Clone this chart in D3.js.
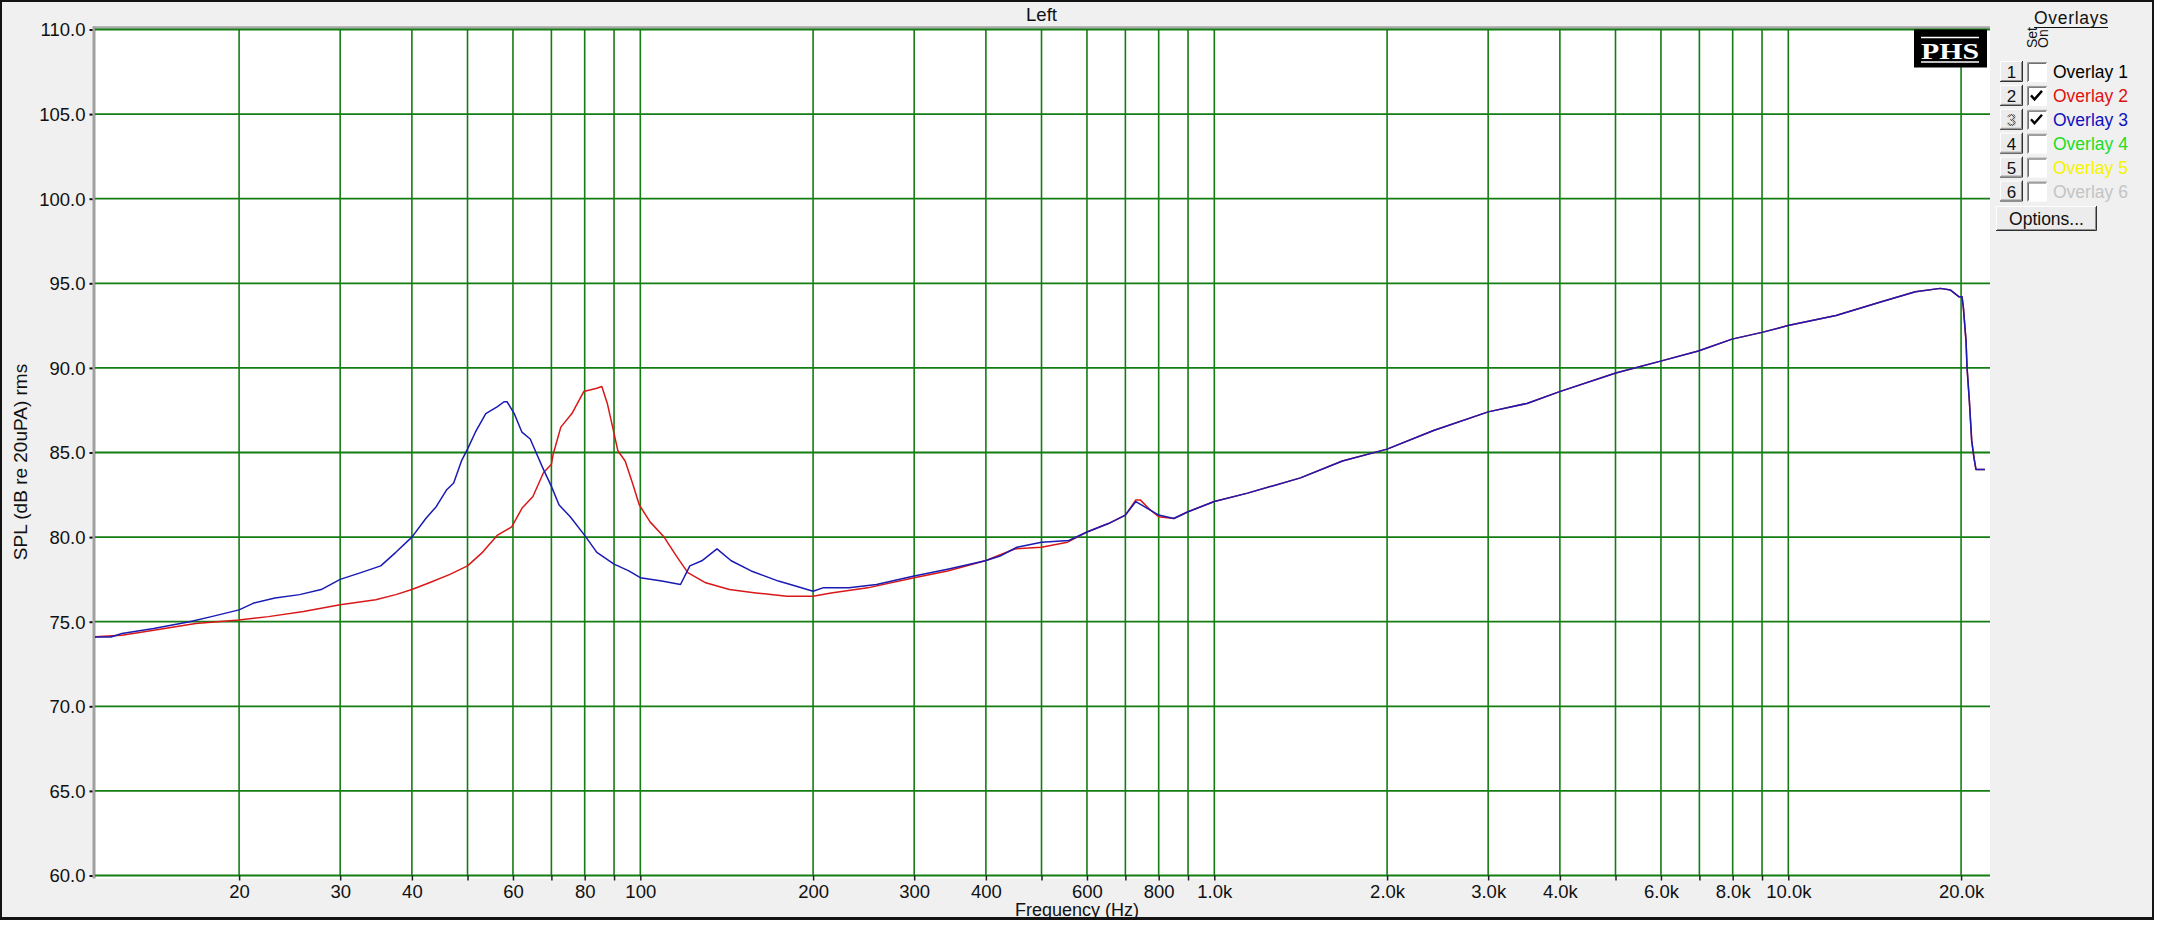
<!DOCTYPE html>
<html><head><meta charset="utf-8">
<script src="https://cdn.jsdelivr.net/npm/d3@7"></script>
<style>
body{margin:0;background:#fff}
svg{display:block}
</style>
</head><body>
<svg id="c" width="2176" height="946" font-family="Liberation Sans, Arial, sans-serif"></svg>
<script>
// ---------- data ----------
const redFreq=[11.13,12.5,14.2,16.8,20,22.5,25.9,30,34.6,37.5,40,42.9,46.6,50,53.1,56.3,59.7,62.2,65,67.8,70,70.5,72.7,76,79.7,84,85.7,87.6,89.5,91.4,94.1,96.9,99.6,104,110,116,121,130,143,159,180,200,215,249,300,343,399,449,500,555,600,654,700,730,743,768,800,850,900,1000,1143,1413,1672,2000,2410,3000,3505,3996,5006,5992,6970,7980,8998,9990,12110,14480,16650,18400,19170,19840,20077,20180,20400,20485,20670,20870,21060,21230,22010];
const redSpl=[74.1,74.2,74.5,74.9,75.1,75.3,75.6,76.0,76.3,76.6,76.9,77.3,77.8,78.3,79.1,80.1,80.6,81.7,82.4,83.8,84.3,84.9,86.5,87.3,88.6,88.8,88.9,87.9,86.5,85.1,84.5,83.2,81.9,80.9,80.0,78.8,77.9,77.3,76.9,76.7,76.5,76.5,76.7,77.0,77.6,78.0,78.6,79.3,79.4,79.7,80.3,80.8,81.3,82.2,82.2,81.7,81.2,81.1,81.5,82.1,82.6,83.5,84.5,85.2,86.3,87.4,87.9,88.6,89.7,90.4,91.0,91.7,92.1,92.5,93.1,93.9,94.5,94.7,94.6,94.2,94.2,93.6,91.6,90.0,88.1,85.7,84.7,84.0,84.0];
const blueFreq=[11.13,11.96,12.5,14.2,16.4,17.9,20,21.2,23.1,25.5,27.8,30,32.6,35.3,37.5,40,42.3,44.1,46.0,47.3,48.8,50,51.6,53.8,56.3,57.9,58.6,60.3,62.2,64.3,66.4,67.8,70,72.2,75.5,80,84,90,95.5,100,109,117.5,122,128,136,144,156,174,187,200,208,231,258,300,343,399,425,453,500,558,600,654,700,730,800,850,900,1000,1143,1413,1672,2000,2410,3000,3505,3996,5006,5992,6970,7980,8998,9990,12110,14480,16650,18400,19170,19840,20077,20180,20400,20485,20670,20870,21060,21230,22010];
const blueSpl=[74.1,74.1,74.3,74.6,75.0,75.3,75.7,76.1,76.4,76.6,76.9,77.5,77.9,78.3,79.1,80.0,81.1,81.8,82.8,83.2,84.5,85.2,86.2,87.3,87.7,88.0,88.0,87.3,86.2,85.8,84.7,84.0,83.0,81.9,81.2,80.1,79.1,78.4,78.0,77.6,77.4,77.2,78.3,78.6,79.3,78.6,78.0,77.4,77.1,76.8,77.0,77.0,77.2,77.7,78.1,78.6,78.9,79.4,79.7,79.8,80.3,80.8,81.3,82.1,81.3,81.1,81.5,82.1,82.6,83.5,84.5,85.2,86.3,87.4,87.9,88.6,89.7,90.4,91.0,91.7,92.1,92.5,93.1,93.9,94.5,94.7,94.6,94.2,94.2,93.6,91.6,90.0,88.1,85.7,84.7,84.0,84.0];
const yTickValues=[60,65,70,75,80,85,90,95,100,105,110];
const xGridValues=[20,30,40,50,60,70,80,90,100,200,300,400,500,600,700,800,900,1000,2000,3000,4000,5000,6000,7000,8000,9000,10000,20000];
const xLabelValues=[20,30,40,60,80,100,200,300,400,600,800,1000,2000,3000,4000,6000,8000,10000,20000];
const xLabelTexts=["20","30","40","60","80","100","200","300","400","600","800","1.0k","2.0k","3.0k","4.0k","6.0k","8.0k","10.0k","20.0k"];
const legendNames=["Overlay 1","Overlay 2","Overlay 3","Overlay 4","Overlay 5","Overlay 6"];
const legendSet=["1","2","3","4","5","6"];
const legendOn=[false,true,true,false,false,false];
const legendColors=["#000000","#e01010","#1010c0","#22dd22","#f4f400","#c4c4c4"];

// ---------- layout ----------
const L=93,R=1990,T=29.5,B=875.5;
const svg=d3.select("#c");
const x=d3.scaleLog().domain([11.13,22460]).range([L,R]);
const y=d3.scaleLinear().domain([60,110]).range([B,T]);
const grid="#137d13";
const FS=18.5;
const SANS="Liberation Sans, Arial, sans-serif";

// panel
svg.append("rect").attr("x",1).attr("y",1).attr("width",2152).attr("height",917)
  .attr("fill","#f0f0f0").attr("stroke","#141414").attr("stroke-width",2);
svg.append("line").attr("x1",0).attr("x2",2154).attr("y1",918.5).attr("y2",918.5).attr("stroke","#141414").attr("stroke-width",3);

// plot bg
svg.append("rect").attr("x",L).attr("y",T).attr("width",R-L).attr("height",B-T+3).attr("fill","#fff");
svg.append("line").attr("x1",L).attr("x2",R).attr("y1",T-2).attr("y2",T-2).attr("stroke","#a8a8a8").attr("stroke-width",2.5);
svg.append("line").attr("x1",L+1).attr("x2",L+1).attr("y1",T-3).attr("y2",B+3).attr("stroke","#a0a0a0").attr("stroke-width",3);

// grid
const g=svg.append("g");
g.selectAll("line.h").data(yTickValues).join("line").attr("class","h")
  .attr("x1",L+2).attr("x2",R).attr("y1",d=>y(d)).attr("y2",d=>y(d))
  .attr("stroke",grid).attr("stroke-width",1.8);
g.selectAll("line.v").data(xGridValues).join("line").attr("class","v")
  .attr("x1",d=>x(d)).attr("x2",d=>x(d)).attr("y1",T).attr("y2",B)
  .attr("stroke",grid).attr("stroke-width",1.6);

// x axis ticks & labels
const xAxis=d3.axisBottom(x).tickValues(xGridValues).tickSize(5).tickSizeOuter(0)
  .tickFormat(d=>{const i=xLabelValues.indexOf(d);return i<0?"":xLabelTexts[i];});
const xa=svg.append("g").attr("transform",`translate(0,${B})`).call(xAxis);
xa.select(".domain").remove();
xa.selectAll(".tick line").attr("stroke","#202020").attr("stroke-width",1.5);
xa.selectAll(".tick text").attr("fill","#111").attr("font-size",FS).attr("font-family",SANS).attr("dy",0).attr("y",22.5);

// y axis
const yAxis=d3.axisLeft(y).tickValues(yTickValues).tickFormat(d3.format(".1f")).tickSize(3).tickSizeOuter(0).tickPadding(4);
const ya=svg.append("g").attr("transform",`translate(${L-0.5},0)`).call(yAxis);
ya.select(".domain").remove();
ya.selectAll(".tick line").attr("stroke","#111").attr("stroke-width",2);
ya.selectAll(".tick text").attr("fill","#111").attr("font-size",FS).attr("font-family",SANS).attr("dy","0.35em");

// titles
svg.append("text").attr("x",(L+R)/2).attr("y",21).attr("text-anchor","middle").attr("font-size",FS).attr("fill","#111").text("Left");
svg.append("text").attr("x",1077).attr("y",915.5).attr("text-anchor","middle").attr("font-size",18).attr("fill","#111").text("Frequency (Hz)");
svg.append("text").attr("transform","translate(27,462) rotate(-90)").attr("text-anchor","middle").attr("font-size",19).attr("fill","#111").text("SPL (dB re 20uPA) rms");

// curves
svg.append("clipPath").attr("id","pc").append("rect").attr("x",L+2).attr("y",T).attr("width",R-L-2).attr("height",B-T);
const mk=(f,s)=>f.map((v,i)=>[v,s[i]]);
const lineGen=d3.line().x(d=>x(d[0])).y(d=>y(d[1]));
const lg=svg.append("g").attr("clip-path","url(#pc)");
lg.append("path").datum(mk(redFreq,redSpl)).attr("d",lineGen)
  .attr("fill","none").attr("stroke","#d81818").attr("stroke-width",1.5).attr("stroke-linejoin","round");
lg.append("path").datum(mk(blueFreq,blueSpl)).attr("d",lineGen)
  .attr("fill","none").attr("stroke","#1a1ab4").attr("stroke-width",1.5).attr("stroke-linejoin","round");

// PHS logo
const logo=svg.append("g");
logo.append("rect").attr("x",1914).attr("y",T).attr("width",73).attr("height",38).attr("fill","#000");
logo.append("text").attr("x",1950).attr("y",59).attr("text-anchor","middle").attr("font-family","Liberation Serif, Times New Roman, serif")
  .attr("font-weight","bold").attr("font-size",24).attr("fill","#fff").attr("textLength",58).attr("lengthAdjust","spacingAndGlyphs").text("PHS");
logo.append("line").attr("x1",1921).attr("x2",1979).attr("y1",37.5).attr("y2",37.5).attr("stroke","#fff").attr("stroke-width",1.5);
logo.append("line").attr("x1",1921).attr("x2",1979).attr("y1",62).attr("y2",62).attr("stroke","#fff").attr("stroke-width",1.5);

// legend
const defs=svg.append("defs");
const pat=defs.append("pattern").attr("id","dith").attr("width",2).attr("height",2).attr("patternUnits","userSpaceOnUse");
pat.append("rect").attr("width",2).attr("height",2).attr("fill","#e8e8e8");
pat.append("rect").attr("width",1).attr("height",1).attr("fill","#333");
pat.append("rect").attr("x",1).attr("y",1).attr("width",1).attr("height",1).attr("fill","#333");

const lgd=svg.append("g");
lgd.append("text").attr("x",2034).attr("y",24).attr("font-size",17.5).attr("fill","#111").attr("textLength",74).text("Overlays");
lgd.append("line").attr("x1",2034).attr("x2",2108).attr("y1",27.5).attr("y2",27.5).attr("stroke","#111").attr("stroke-width",1);
lgd.append("text").attr("transform","translate(2037,48) rotate(-90)").attr("font-size",14).attr("fill","#111").text("Set");
lgd.append("text").attr("transform","translate(2048,48) rotate(-90)").attr("font-size",14).attr("fill","#111").text("On");

function button(gr,x0,y0,w,h){
  gr.append("rect").attr("x",x0).attr("y",y0).attr("width",w).attr("height",h).attr("fill","#ececec");
  gr.append("path").attr("d",`M${x0+0.5},${y0+h}V${y0+0.5}H${x0+w}`).attr("fill","none").attr("stroke","#fff").attr("stroke-width",1);
  gr.append("path").attr("d",`M${x0},${y0+h-0.5}H${x0+w-0.5}V${y0}`).attr("fill","none").attr("stroke","#303030").attr("stroke-width",1);
  gr.append("path").attr("d",`M${x0+1},${y0+h-1.5}H${x0+w-1.5}V${y0+1}`).attr("fill","none").attr("stroke","#909090").attr("stroke-width",1);
}
const rows=lgd.selectAll("g.row").data(legendNames).join("g").attr("class","row")
  .attr("transform",(d,i)=>`translate(0,${61+i*23.9})`);
rows.each(function(d,i){
  const r=d3.select(this);
  button(r,2000,0,23,21);
  r.append("text").attr("x",2011.5).attr("y",17).attr("text-anchor","middle").attr("font-size",17)
    .attr("fill",i===2?"url(#dith)":"#111").attr("font-weight",i===2?"bold":"normal").text(legendSet[i]);
  r.append("rect").attr("x",2027).attr("y",1).attr("width",20).attr("height",20).attr("fill","#fff");
  r.append("path").attr("d","M2027.5,21V1.5H2047").attr("fill","none").attr("stroke","#9a9a9a").attr("stroke-width",1);
  r.append("path").attr("d","M2028.5,20V2.5H2046").attr("fill","none").attr("stroke","#707070").attr("stroke-width",1);
  if(legendOn[i]) r.append("path").attr("d","M2031,10.5L2034.5,14.5L2042,6").attr("fill","none").attr("stroke","#000").attr("stroke-width",2.4);
  r.append("text").attr("x",2053).attr("y",17).attr("font-size",17.5).attr("fill",legendColors[i]).text(d);
});
const ob=lgd.append("g");
button(ob,1996,206,101,25);
ob.append("text").attr("x",2046.5).attr("y",224.5).attr("text-anchor","middle").attr("font-size",17.5).attr("fill","#111").text("Options...");
</script>
</body></html>
